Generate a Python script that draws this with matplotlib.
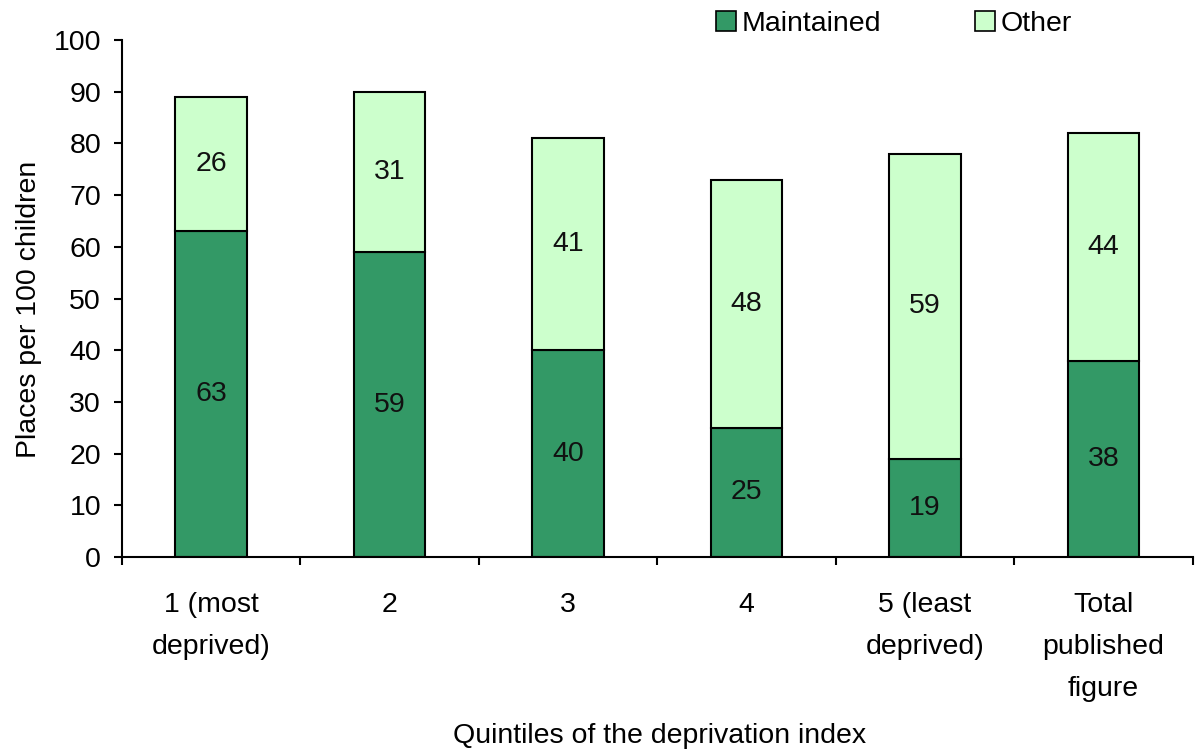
import matplotlib
matplotlib.use("Agg")
import matplotlib.pyplot as plt
import numpy as np
from matplotlib.patches import Patch

plt.rcParams['font.family'] = ['Liberation Sans', 'DejaVu Sans']

categories = ["1 (most\ndeprived)", "2", "3", "4", "5 (least\ndeprived)", "Total\npublished\nfigure"]
maintained = [63, 59, 40, 25, 19, 38]
other = [26, 31, 41, 48, 59, 44]

dark_green = "#339966"
light_green = "#ccffcc"
fs = 20.5

fig = plt.figure(figsize=(11.95, 7.51), dpi=100)
ax = fig.add_axes([0.102, 0.2583, 0.896, 0.6884])

x = np.arange(len(categories))
width = 0.40
ax.bar(x, maintained, width, color=dark_green, edgecolor="black", linewidth=1.5, label="Maintained")
ax.bar(x, other, width, bottom=maintained, color=light_green, edgecolor="black", linewidth=1.5, label="Other")

for xi, m, o in zip(x, maintained, other):
    ax.text(xi, m / 2, str(m), ha="center", va="center", fontsize=fs, color="#111111")
    ax.text(xi, m + o / 2, str(o), ha="center", va="center", fontsize=fs, color="#111111")

ax.set_xlim(-0.5, len(categories) - 0.5)
ax.set_ylim(0, 100)
ax.set_yticks(np.arange(0, 101, 10))
ax.tick_params(axis="y", direction="out", length=6, width=1.5, labelsize=fs, pad=9)

ax.set_xticks(x)
ax.set_xticklabels(categories, fontsize=fs, linespacing=1.8, va="top")
ax.set_xticks(np.arange(-0.5, len(categories), 1.0), minor=True)
ax.tick_params(axis="x", which="major", length=0, pad=25)
ax.tick_params(axis="x", which="minor", direction="out", length=6, width=1.5)

for side in ("top", "right"):
    ax.spines[side].set_visible(False)
for side in ("left", "bottom"):
    ax.spines[side].set_linewidth(1.5)

fig.text(0.552, 0.02, "Quintiles of the deprivation index", ha="center", va="center", fontsize=fs)
fig.text(0.024, 0.588, "Places per 100 children", ha="center", va="center", rotation=90, fontsize=fs)

handles = [Patch(facecolor=dark_green, edgecolor="black", linewidth=1.2),
           Patch(facecolor=light_green, edgecolor="black", linewidth=1.2)]
fig.legend(handles, ["Maintained", "Other"], loc="center", bbox_to_anchor=(0.748, 0.968),
           ncol=2, frameon=False, fontsize=fs, handlelength=0.7, handleheight=0.7,
           handletextpad=0.2, columnspacing=3.3)

fig.savefig("out.png", dpi=100)
